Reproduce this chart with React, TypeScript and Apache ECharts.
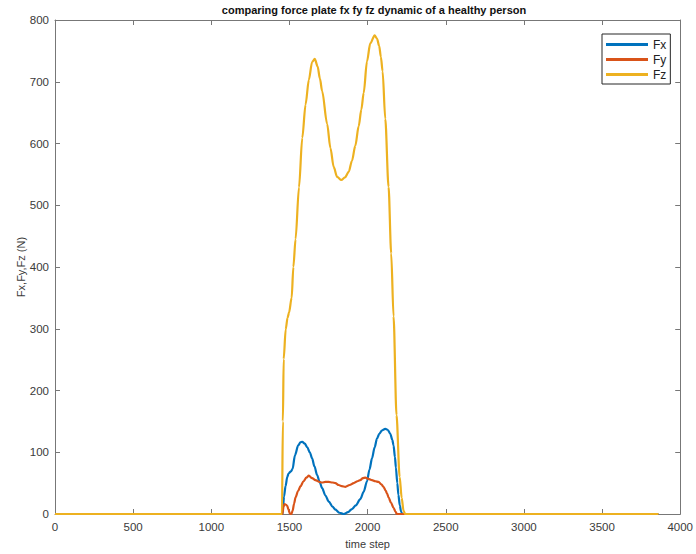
import React, { useEffect, useRef } from "react";
import * as echarts from "echarts";

const chartTitle = "comparing force plate fx fy fz dynamic of a healthy person";
const xAxisName = "time step";
const yAxisName = "Fx,Fy,Fz (N)";
const seriesNames = ["Fx", "Fy", "Fz"];

const fxTime = [0, 1455, 1459, 1465, 1475, 1486, 1495, 1510, 1520, 1535, 1556, 1570, 1582, 1598, 1614, 1630, 1645, 1660, 1677, 1693, 1709, 1730, 1752, 1775, 1794, 1820, 1847, 1875, 1900, 1925, 1953, 1975, 1996, 2012, 2028, 2045, 2060, 2075, 2091, 2113, 2130, 2145, 2158, 2166, 2175, 2181, 2190, 2197, 2206, 2214, 2222, 3860];
const fxForce = [0, 0, 10, 28, 45, 60, 66, 69, 73, 95, 111, 116, 117, 114, 108, 100, 90, 77, 63, 52, 42, 30, 20, 12, 7, 2, 0, 3, 8, 14, 24, 36, 53, 72, 90, 108, 122, 130, 135, 138, 136, 130, 120, 111, 92, 75, 50, 31, 14, 4, 0, 0];

const fyTime = [0, 1455, 1462, 1469, 1478, 1486, 1494, 1502, 1512, 1520, 1530, 1539, 1555, 1571, 1590, 1608, 1624, 1645, 1666, 1690, 1709, 1730, 1752, 1775, 1794, 1815, 1835, 1858, 1885, 1911, 1935, 1953, 1970, 1985, 2005, 2028, 2050, 2070, 2088, 2102, 2115, 2125, 2134, 2150, 2166, 2178, 2187, 3860];
const fyForce = [0, 0, 12, 16, 15, 13, 7, 1, 0, 5, 17, 27, 37, 45, 53, 59, 62, 58, 55, 52, 51, 52, 52, 51, 50, 47, 45, 44, 47, 50, 53, 55, 58, 59, 57, 55, 53, 52, 48, 44, 38, 33, 27, 18, 10, 4, 0, 0];

const fzTime = [0, 1452, 1458, 1463, 1476, 1488, 1497, 1514, 1525, 1539, 1561, 1582, 1603, 1624, 1645, 1662, 1680, 1695, 1709, 1741, 1762, 1783, 1805, 1832, 1855, 1879, 1900, 1921, 1943, 1960, 1975, 1996, 2017, 2045, 2060, 2074, 2085, 2096, 2113, 2134, 2151, 2166, 2185, 2205, 2218, 2230, 2240, 3860];
const fzForce = [0, 0, 150, 251, 299, 318, 326, 350, 400, 445, 529, 609, 663, 703, 732, 737, 725, 705, 685, 632, 593, 562, 546, 541, 545, 554, 572, 596, 628, 655, 682, 733, 762, 775, 770, 758, 740, 717, 640, 530, 422, 320, 160, 60, 26, 5, 0, 0];

const xTicks = { min: 0, max: 4000, interval: 500 };
const yTicks = { min: 0, max: 800, interval: 100 };

const colors = ["#0072BD", "#D95319", "#EDB120"];

function pairs(xs: number[], ys: number[]) {
  return xs.map((x, i) => [x, ys[i]]);
}

export default function App() {
  const ref = useRef<HTMLDivElement>(null);
  useEffect(() => {
    document.body.style.margin = "0";
    const chart = echarts.init(ref.current!, undefined, { renderer: "svg" });
    const axisColor = "#777777";
    const labelColor = "#3a3a3a";
    const font = "Liberation Sans, Arial, sans-serif";
    const baseX = {
      type: "value" as const,
      min: xTicks.min,
      max: xTicks.max,
      interval: xTicks.interval,
      splitLine: { show: false },
      axisLine: { show: true, onZero: false, lineStyle: { color: axisColor, width: 1 } },
      axisTick: { show: true, inside: true, length: 5, lineStyle: { color: axisColor } },
    };
    const baseY = {
      type: "value" as const,
      min: yTicks.min,
      max: yTicks.max,
      interval: yTicks.interval,
      splitLine: { show: false },
      axisLine: { show: true, onZero: false, lineStyle: { color: axisColor, width: 1 } },
      axisTick: { show: true, inside: true, length: 5, lineStyle: { color: axisColor } },
    };
    const datasets = [pairs(fxTime, fxForce), pairs(fyTime, fyForce), pairs(fzTime, fzForce)];
    chart.setOption({
      animation: false,
      textStyle: { fontFamily: font },
      title: {
        text: chartTitle,
        left: 369,
        top: 0,
        padding: [4, 5, 3, 5],
        textAlign: "center",
        textStyle: { fontSize: 11, fontWeight: "bold", color: "#111", fontFamily: font },
      },
      grid: { left: 55, right: 13, top: 20, bottom: 38, containLabel: false },
      legend: {
        orient: "vertical",
        left: 602,
        top: 34,
        data: seriesNames.map((n) => ({ name: n, icon: "rect" })),
        itemWidth: 42,
        itemHeight: 3,
        itemGap: 0,
        itemTextGap: 4,
        padding: [3, 4, 2, 4],
        borderColor: "#262626",
        borderWidth: 1,
        backgroundColor: "#fff",
        textStyle: { fontSize: 12, lineHeight: 15, color: "#222", fontFamily: font },
      },
      xAxis: [
        {
          ...baseX,
          position: "bottom",
          name: xAxisName,
          nameLocation: "middle",
          nameGap: 24,
          nameMoveOverlap: false,
          nameTextStyle: { fontSize: 11, color: labelColor, fontFamily: font },
          axisLabel: {
            fontSize: 11.5,
            color: labelColor,
            margin: 7,
            fontFamily: font,
            formatter: (v: number) => String(v),
          },
        },
        { ...baseX, position: "top", axisLabel: { show: false } },
      ],
      yAxis: [
        {
          ...baseY,
          position: "left",
          name: yAxisName,
          nameLocation: "middle",
          nameGap: 29,
          nameMoveOverlap: false,
          nameTextStyle: { fontSize: 11, color: labelColor, fontFamily: font },
          axisLabel: {
            fontSize: 11.5,
            color: labelColor,
            margin: 6,
            fontFamily: font,
            formatter: (v: number) => String(v),
          },
        },
        { ...baseY, position: "right", axisLabel: { show: false } },
      ],
      series: seriesNames.map((name, i) => ({
        name,
        type: "line",
        data: datasets[i],
        xAxisIndex: 0,
        yAxisIndex: 0,
        symbol: "none",
        smooth: 0.3,
        smoothMonotone: "x",
        lineStyle: { color: colors[i], width: 2.2 },
        itemStyle: { color: colors[i] },
        z: 2 + i,
      })),
    });
    return () => chart.dispose();
  }, []);
  return <div ref={ref} style={{ width: 696, height: 554 }} />;
}
